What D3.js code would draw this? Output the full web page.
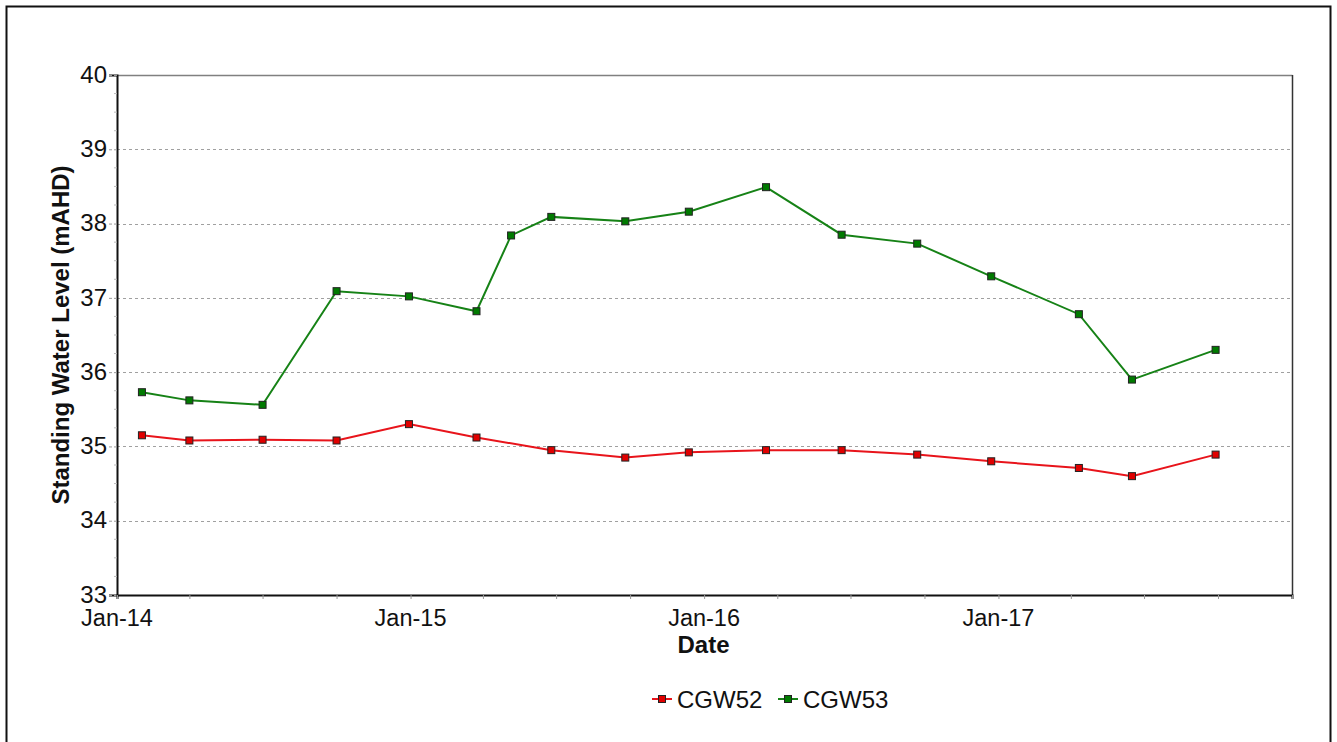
<!DOCTYPE html>
<html>
<head>
<meta charset="utf-8">
<script src="https://cdn.jsdelivr.net/npm/d3@7"></script>
<style>
  body { margin: 0; background: #fff; }
  svg { display: block; font-family: "Liberation Sans", Arial, sans-serif; }
</style>
</head>
<body>
<svg id="chart" width="1337" height="742"></svg>
<script>
// ---- data ----
const datesCGW52 = ["2014-02-01","2014-04-01","2014-07-01","2014-10-01","2014-12-30","2015-03-24","2015-06-25","2015-09-25","2015-12-13","2016-03-18","2016-06-20","2016-09-22","2016-12-23","2017-04-11","2017-06-16","2017-09-28"];
const valuesCGW52 = [35.15,35.08,35.09,35.08,35.30,35.12,34.95,34.85,34.92,34.95,34.95,34.89,34.80,34.71,34.60,34.89];
const datesCGW53 = ["2014-02-01","2014-04-01","2014-07-01","2014-10-01","2014-12-30","2015-03-24","2015-05-06","2015-06-25","2015-09-25","2015-12-13","2016-03-18","2016-06-20","2016-09-22","2016-12-23","2017-04-11","2017-06-16","2017-09-28"];
const valuesCGW53 = [35.73,35.62,35.56,37.09,37.02,36.82,37.84,38.09,38.03,38.16,38.49,37.85,37.73,37.29,36.78,35.90,36.30];
const xTickDates = ["2014-01-01","2015-01-01","2016-01-01","2017-01-01"];
const xTickLabels = ["Jan-14","Jan-15","Jan-16","Jan-17"];
const yTicks = [33,34,35,36,37,38,39,40];
const seriesNames = ["CGW52","CGW53"];
const seriesColors = ["#e8141b","#168216"];
const markerFill = ["#e00000","#007a00"];

const parse = d3.timeParse("%Y-%m-%d");
const series = [
  { name: seriesNames[0], color: seriesColors[0], fill: markerFill[0],
    pts: datesCGW52.map((d,i)=>({date: parse(d), value: valuesCGW52[i]})) },
  { name: seriesNames[1], color: seriesColors[1], fill: markerFill[1],
    pts: datesCGW53.map((d,i)=>({date: parse(d), value: valuesCGW53[i]})) }
];

const svg = d3.select("#chart");
const L = 117, R = 1292, T = 75, B = 595;
const FS = "24px";

// outer border
svg.append("rect").attr("x",6.5).attr("y",6.5).attr("width",1324).attr("height",760)
  .attr("fill","none").attr("stroke","#111").attr("stroke-width",2);

const x = d3.scaleTime().domain([parse("2014-01-01"), parse("2018-01-01")]).range([L, R]);
const y = d3.scaleLinear().domain([33, 40]).range([B, T]);

// gridlines
svg.append("g").selectAll("line").data(yTicks.filter(v => v > 33 && v < 40)).join("line")
  .attr("x1", L).attr("x2", R).attr("y1", d => Math.round(y(d))+0.5).attr("y2", d => Math.round(y(d))+0.5)
  .attr("stroke", "#a0a0a0").attr("stroke-width", 1).attr("stroke-dasharray", "3,3");

// plot frame: top/right
svg.append("line").attr("x1",L).attr("x2",R+0.5).attr("y1",T+0.5).attr("y2",T+0.5).attr("stroke","#808080").attr("stroke-width",1.5);
svg.append("line").attr("x1",R+0.5).attr("x2",R+0.5).attr("y1",T).attr("y2",B).attr("stroke","#333").attr("stroke-width",1.5);

// y axis
const yAxis = d3.axisLeft(y).tickValues(yTicks).tickSize(8).tickPadding(2).tickFormat(d3.format("d"));
const gy = svg.append("g").attr("transform", `translate(${L},0)`).call(yAxis);
gy.select(".domain").attr("stroke","#111").attr("stroke-width",2);
gy.selectAll(".tick line").attr("stroke","#999").attr("stroke-dasharray","3,2");
gy.selectAll("text").attr("font-size",FS).attr("fill","#111").attr("dy","0.3em");
// minor y ticks
const minorY = d3.range(33, 40.01, 0.25).filter(v => Math.abs(v - Math.round(v)) > 0.01);
svg.append("g").selectAll("line").data(minorY).join("line")
  .attr("x1", L-3).attr("x2", L).attr("y1", d => y(d)).attr("y2", d => y(d))
  .attr("stroke","#bbb").attr("stroke-width",1);

// x axis
const quarterTicks = d3.timeMonth.every(3).range(parse("2014-01-01"), parse("2018-01-02"));
const xAxis = d3.axisBottom(x).tickValues(quarterTicks).tickSize(4).tickFormat(() => "");
const gx = svg.append("g").attr("transform", `translate(0,${B})`).call(xAxis);
gx.select(".domain").attr("stroke","#111").attr("stroke-width",2);
gx.selectAll(".tick line").attr("stroke","#999");
svg.append("g").selectAll("text").data(xTickDates).join("text")
  .attr("x", d => x(parse(d))).attr("y", B + 31)
  .attr("text-anchor","middle").attr("font-size","23.5px").attr("fill","#111")
  .text((d,i) => xTickLabels[i]);

// axis titles
svg.append("text").attr("x", (L+R)/2 - 1).attr("y", 653).attr("text-anchor","middle")
  .attr("font-size",FS).attr("font-weight","bold").attr("fill","#111").text("Date");
svg.append("text").attr("transform", `translate(69,${(T+B)/2}) rotate(-90)`).attr("text-anchor","middle")
  .attr("font-size",FS).attr("font-weight","bold").attr("fill","#111").text("Standing Water Level (mAHD)");

// lines and markers
const line = d3.line().x(d => x(d.date)).y(d => y(d.value));
series.forEach(s => {
  svg.append("path").datum(s.pts).attr("d", line).attr("fill","none")
    .attr("stroke", s.color).attr("stroke-width", 2);
  svg.append("g").selectAll("rect").data(s.pts).join("rect")
    .attr("x", d => x(d.date) - 3.5).attr("y", d => y(d.value) - 3.5)
    .attr("width", 7).attr("height", 7)
    .attr("fill", s.fill).attr("stroke", "#222").attr("stroke-width", 1);
});

// legend
const legendX = [652, 778];
series.forEach((s, i) => {
  const g = svg.append("g").attr("transform", `translate(${legendX[i]},699)`);
  g.append("line").attr("x1",0).attr("x2",20).attr("y1",0).attr("y2",0).attr("stroke",s.color).attr("stroke-width",2);
  g.append("rect").attr("x",6.5).attr("y",-3.5).attr("width",7).attr("height",7).attr("fill",s.fill).attr("stroke","#222").attr("stroke-width",1);
  g.append("text").attr("x",25).attr("y",8.5).attr("font-size",FS).attr("fill","#111").text(s.name);
});
</script>
</body>
</html>
